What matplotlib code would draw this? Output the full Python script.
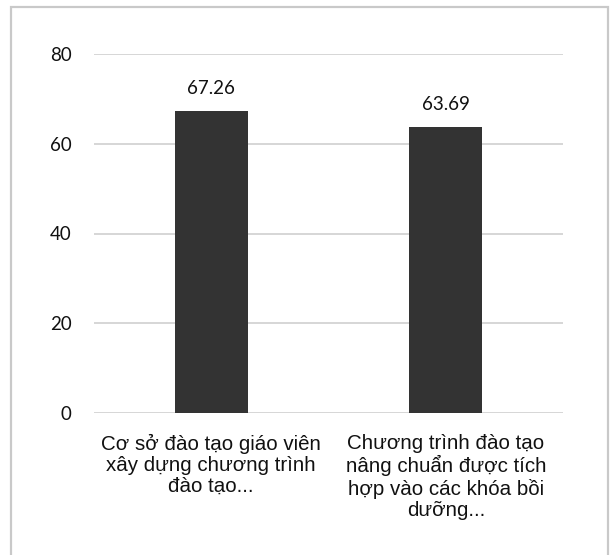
import matplotlib.pyplot as plt
from matplotlib.patches import Rectangle

categories = ["Cơ sở đào tạo giáo viên\nxây dựng chương trình\nđào tạo...",
              "Chương trình đào tạo\nnâng chuẩn được tích\nhợp vào các khóa bồi\ndưỡng..."]
values = [67.26, 63.69]
yticks = [0, 20, 40, 60, 80]

fig = plt.figure(figsize=(6.11, 5.55), dpi=100)
ax = fig.add_axes([94 / 611, 1 - 413 / 555, (563 - 94) / 611, (413 - 54) / 555])

# khung viền xám quanh biểu đồ
fig.patches.append(Rectangle((11 / 611, -0.05), (608 - 11) / 611, 1 - 7 / 555 + 0.05,
                             transform=fig.transFigure, fill=False,
                             edgecolor="#c9c9c9", linewidth=1.6))

x = list(range(len(categories)))
bars = ax.bar(x, values, width=0.31, color="#333333", zorder=3)
ax.set_xlim(-0.5, 1.5)
ax.set_ylim(0, 80)
ax.set_yticks(yticks)
ax.set_yticklabels([str(v) for v in yticks], fontsize=13.5, family="Lato", color="#111111")
ax.set_xticks(x)
ax.set_xticklabels(categories, fontsize=14.8, family="Liberation Sans", linespacing=1.14,
                   multialignment="center", color="#111111")
ax.tick_params(axis="y", length=0, pad=16)
ax.tick_params(axis="x", length=0, pad=15)
ax.grid(axis="y", color="#d0d0d0", linewidth=1.2, zorder=0)
for s in ax.spines.values():
    s.set_visible(False)

for b, v in zip(bars, values):
    ax.text(b.get_x() + b.get_width() / 2, v + 3.1, f"{v:.2f}", ha="center", va="bottom",
            fontsize=13.5, family="Lato", color="#111111")

fig.savefig("out.png", dpi=100)
